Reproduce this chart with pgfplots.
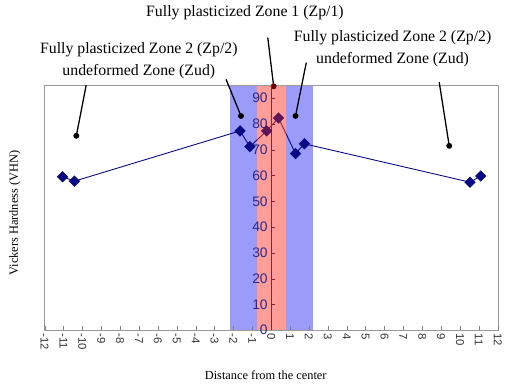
\documentclass[border=0pt]{standalone}
\usepackage{pgfplots}
\pgfplotsset{compat=1.18}
\usepackage{fontspec}
\setmainfont{Liberation Serif}
\newfontfamily\arial{Liberation Sans}
\definecolor{navy}{RGB}{10,10,130}
\definecolor{innerpurple}{RGB}{95,20,90}
\definecolor{ticknavy}{RGB}{40,40,140}
\definecolor{bandblue}{RGB}{155,155,250}
\definecolor{bandred}{RGB}{255,60,50}
\definecolor{axred}{RGB}{130,40,40}
\begin{document}
\begin{tikzpicture}
\begin{axis}[
  at={(0,0)}, anchor=south west,
  scale only axis, width=457bp, height=247bp,
  xmin=-12, xmax=12, ymin=0, ymax=95,
  axis x line=bottom, axis y line=center,
  hide obscured x ticks=false, hide obscured y ticks=false,
  axis line style={-},
  x axis line style={draw=gray!80},
  y axis line style={draw=axred},
  xtick={-12,...,12}, ytick={0,10,...,90},
  x tick style={gray}, y tick style={axred},
  major tick length=4bp,
  xtick align=inside, ytick align=inside,
  x tick label style={rotate=-90, anchor=west, font=\arial\fontsize{11.5}{11.5}\selectfont, text=black!80},
  y tick label style={font=\arial\fontsize{14}{14}\selectfont, text=ticknavy},
  /pgf/number format/assume math mode=true,
  clip=false, axis on top,
]
\fill[bandblue] (axis cs:-2.2,0) rectangle (axis cs:-0.76,95);
\fill[bandblue] (axis cs:0.8,0) rectangle (axis cs:2.22,95);
\addplot[color=navy, line width=0.9pt, mark=square*, mark size=3.6bp,
  scatter, point meta=explicit symbolic,
  scatter/classes={o={mark=square*,rotate=45,fill=navy,draw=navy},
                   i={mark=square*,rotate=45,fill=innerpurple,draw=innerpurple}}]
  table[meta=c] {
x y c
-11.05 59.5 o
-10.42 57.8 o
-1.65 77.3 o
-1.13 71.2 o
-0.24 77.3 i
0.39 82.3 i
1.29 68.5 o
1.76 72.3 o
10.53 57.4 o
11.1 59.8 o
};
\fill[bandred, opacity=0.5] (axis cs:-0.76,0) rectangle (axis cs:0.8,95);
\draw[gray!80] (rel axis cs:0,0) rectangle (rel axis cs:1,1);
% callouts
\draw[black, line width=1.3pt] (axis cs:-9.8,95) -- (axis cs:-10.32,75.4);
\fill (axis cs:-10.32,75.4) circle (3bp);
\draw[black, line width=1.3pt] (axis cs:-2.39,97.3) -- (axis cs:-1.6,83.1);
\fill (axis cs:-1.6,83.1) circle (3bp);
\draw[black, line width=1.3pt] (axis cs:-0.18,113.5) -- (axis cs:0.13,94.6);
\fill[black!60!red] (axis cs:0.13,94.6) circle (3bp);
\draw[black, line width=1.3pt] (axis cs:1.86,103.8) -- (axis cs:1.29,83.1);
\fill (axis cs:1.29,83.1) circle (3bp);
\draw[black, line width=1.3pt] (axis cs:8.9,96.2) -- (axis cs:9.43,71.5);
\fill (axis cs:9.43,71.5) circle (3bp);
% texts
\node[font=\fontsize{16}{22}\selectfont, align=center] at (axis cs:-1.39,123.1) {Fully plasticized Zone 1 (Zp/1)};
\node[font=\fontsize{16}{22}\selectfont, align=center] at (axis cs:-7.01,104.6) {Fully plasticized Zone 2 (Zp/2)\\undeformed Zone (Zud)};
\node[font=\fontsize{16}{22}\selectfont, align=center] at (axis cs:6.43,109.2) {Fully plasticized Zone 2 (Zp/2)\\undeformed Zone (Zud)};
\node[font=\fontsize{12.5}{14}\selectfont, rotate=90] at (axis cs:-13.58,45.4) {Vickers Hardness (VHN)};
\node[font=\fontsize{12.5}{14}\selectfont] at (axis cs:-0.29,-17.3) {Distance from the center};
\end{axis}
\path[use as bounding box] (-45bp,-61bp) rectangle (460bp,333bp);
\end{tikzpicture}
\end{document}
